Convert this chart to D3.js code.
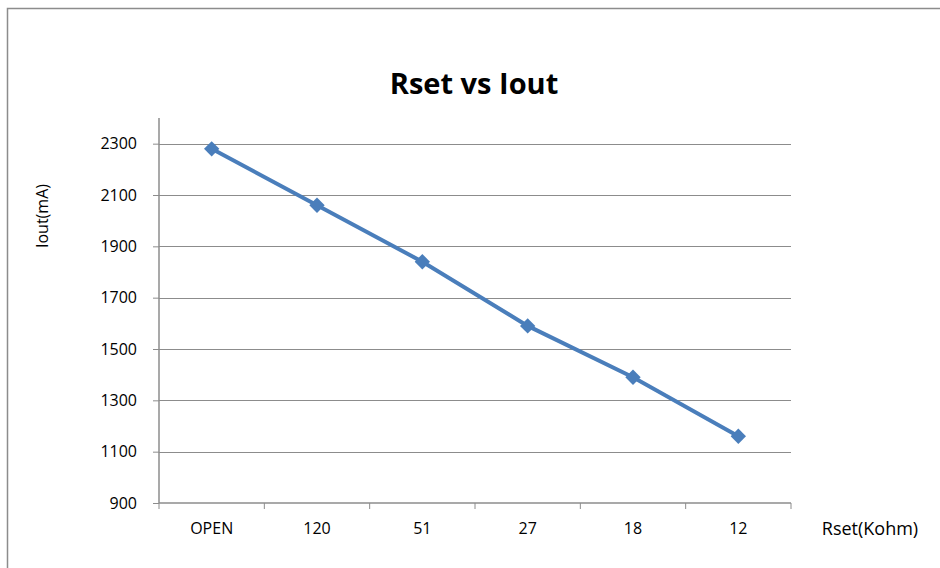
<!DOCTYPE html>
<html>
<head>
<meta charset="utf-8">
<script src="https://cdn.jsdelivr.net/npm/d3@7"></script>
<style>
  body { margin: 0; background: #fff; }
  svg { display: block; font-family: "Open Sans", "Noto Sans", sans-serif; }
</style>
</head>
<body>
<svg width="940" height="568"></svg>
<script>
var categories = ['OPEN', '120', '51', '27', '18', '12'];
var iout = [2280, 2060, 1840, 1590, 1390, 1160];
var yTicks = [900, 1100, 1300, 1500, 1700, 1900, 2100, 2300];

var svg = d3.select('svg');

// outer chart border (runs off the page right and bottom)
svg.append('rect')
	.attr('x', 7.5).attr('y', 8.5)
	.attr('width', 1000).attr('height', 1000)
	.attr('fill', 'none')
	.attr('stroke', '#8c8c8c')
	.attr('stroke-width', 1.5);

var plotL = 159, plotR = 791, plotT = 118, plotB = 503;

var x = d3.scaleBand().domain(categories).range([plotL, plotR]);
var y = d3.scaleLinear().domain([900, 2400]).range([plotB, plotT]);

// gridlines
svg.append('g').selectAll('line')
	.data(yTicks.slice(1))
	.enter()
	.append('line')
		.attr('x1', plotL).attr('x2', plotR)
		.attr('y1', function(d){ return Math.round(y(d)) + 0.5 })
		.attr('y2', function(d){ return Math.round(y(d)) + 0.5 })
		.attr('stroke', '#8c8c8c')
		.attr('stroke-width', 1);

// y axis
var yAxis = svg.append('g')
	.attr('transform', 'translate(' + plotL + ',0)')
	.call(d3.axisLeft(y).tickValues(yTicks).tickFormat(d3.format('d')).tickSize(6).tickPadding(16));
yAxis.select('.domain').attr('stroke', '#8c8c8c').attr('stroke-width', 1.5)
	.attr('d', 'M0,' + plotT + 'V' + plotB);
yAxis.selectAll('.tick line').attr('stroke', '#8c8c8c');
yAxis.selectAll('.tick text').attr('font-size', 16).attr('fill', '#000')
	.attr('font-family', '"Open Sans", sans-serif');

// x axis
var xAxis = svg.append('g')
	.attr('transform', 'translate(0,' + plotB + ')')
	.call(d3.axisBottom(x).tickSize(0).tickPadding(20));
xAxis.select('.domain').attr('stroke', '#8c8c8c').attr('stroke-width', 1.5)
	.attr('d', 'M' + plotL + ',0H' + plotR);
xAxis.selectAll('.tick text').attr('font-size', 16).attr('fill', '#000')
	.attr('font-family', '"Open Sans", sans-serif');

// x axis tick marks at band edges
xAxis.selectAll('.edge')
	.data(categories.concat(['end']))
	.enter()
	.append('line')
		.attr('x1', function(d, i){ return plotL + i * x.bandwidth() })
		.attr('x2', function(d, i){ return plotL + i * x.bandwidth() })
		.attr('y1', 0).attr('y2', 6)
		.attr('stroke', '#8c8c8c');

// series line
var line = d3.line()
	.x(function(d, i){ return x(categories[i]) + x.bandwidth() / 2 })
	.y(function(d){ return y(d) });

svg.append('path')
	.datum(iout)
	.attr('d', line)
	.attr('fill', 'none')
	.attr('stroke', '#4a7ebb')
	.attr('stroke-width', 4);

svg.selectAll('.marker')
	.data(iout)
	.enter()
	.append('path')
		.attr('class', 'marker')
		.attr('d', d3.symbol().type(d3.symbolDiamond2).size(150))
		.attr('transform', function(d, i){
			return 'translate(' + (x(categories[i]) + x.bandwidth() / 2) + ',' + y(d) + ')'
		})
		.attr('fill', '#4a7ebb');

// title and axis labels
svg.append('text')
	.attr('x', 474).attr('y', 94)
	.attr('text-anchor', 'middle')
	.attr('font-size', 29)
	.attr('font-weight', 'bold')
	.text('Rset vs Iout');

svg.append('text')
	.attr('transform', 'translate(48,216) rotate(-90)')
	.attr('text-anchor', 'middle')
	.attr('font-size', 16)
	.text('Iout(mA)');

svg.append('text')
	.attr('x', 870).attr('y', 535)
	.attr('text-anchor', 'middle')
	.attr('font-size', 18)
	.text('Rset(Kohm)');
</script>
</body>
</html>
